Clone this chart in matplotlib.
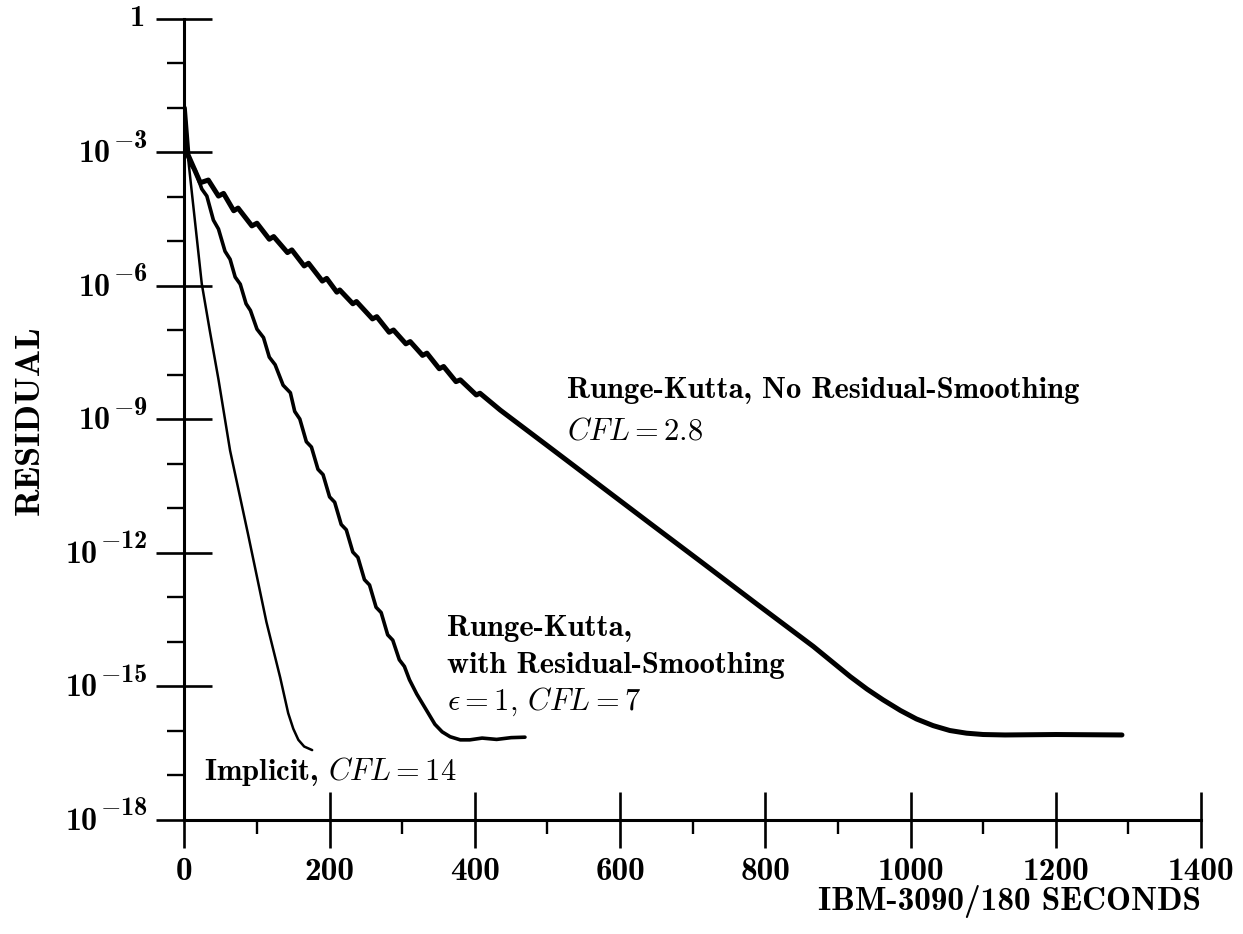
import numpy as np
import matplotlib
matplotlib.use("Agg")
import matplotlib.pyplot as plt
from matplotlib.ticker import FixedLocator, NullFormatter
from matplotlib.transforms import offset_copy

plt.rcParams["mathtext.fontset"] = "cm"
plt.rcParams["axes.unicode_minus"] = False
plt.rcParams["font.family"] = ["cmb10", "DejaVu Serif"]

# Convergence histories: time (s) and decades of residual reduction (residual = 10**-decades)
implicit_t = [0, 5, 15, 24, 35, 47, 63, 88, 113, 132, 143, 150, 157, 165, 176]
implicit_dec = [2.0, 3.1, 4.6, 5.95, 7.0, 8.1, 9.7, 11.6, 13.55, 14.8, 15.6,
                15.95, 16.2, 16.35, 16.43]

rk_smooth_t = [0, 5, 10, 15, 24, 31, 40, 47, 56, 63, 70, 77, 85, 91, 100, 109,
               117, 125, 136, 146, 152, 159, 168, 175, 184, 191, 200, 207, 216,
               223, 232, 239, 248, 255, 264, 271, 280, 287, 296, 303, 310, 320,
               334, 345, 355, 366, 380, 393, 410, 430, 450, 469]
rk_smooth_dec = [2.0, 3.1, 3.3, 3.4, 3.82, 3.98, 4.52, 4.72, 5.22, 5.4, 5.8,
                 5.96, 6.4, 6.55, 6.97, 7.16, 7.6, 7.77, 8.23, 8.4, 8.82, 8.99,
                 9.5, 9.62, 10.12, 10.24, 10.74, 10.86, 11.36, 11.48, 11.98,
                 12.1, 12.6, 12.72, 13.22, 13.34, 13.84, 13.96, 14.4, 14.55,
                 14.85, 15.17, 15.55, 15.85, 16.02, 16.13, 16.2, 16.2, 16.16,
                 16.19, 16.15, 16.14]

rk_plain_t = [0, 5, 22, 33, 47, 54, 68, 74, 93, 100, 117, 123, 142, 148, 165,
              171, 190, 196, 210, 214, 232, 237, 259, 265, 282, 288, 305, 311,
              328, 334, 351, 357, 374, 380, 402, 407, 435, 500, 572, 640, 710,
              790, 866, 917, 940, 962, 986, 1008, 1031, 1054, 1077, 1100, 1130,
              1200, 1291]
rk_plain_dec = [2.0, 3.05, 3.68, 3.62, 3.98, 3.92, 4.31, 4.25, 4.65, 4.59, 4.95,
                4.89, 5.25, 5.19, 5.55, 5.49, 5.89, 5.83, 6.14, 6.09, 6.40, 6.35,
                6.74, 6.69, 7.04, 6.99, 7.30, 7.25, 7.56, 7.51, 7.86, 7.81, 8.15,
                8.11, 8.45, 8.41, 8.79, 9.59, 10.48, 11.32, 12.18, 13.17, 14.1,
                14.78, 15.06, 15.3, 15.54, 15.73, 15.88, 15.99, 16.05, 16.08,
                16.09, 16.08, 16.09]

y_major = [0, -3, -6, -9, -12, -15, -18]
x_major = [0, 200, 400, 600, 800, 1000, 1200, 1400]
x_minor = [100, 300, 500, 700, 900, 1100, 1300]


def residual(dec):
    return 10.0 ** (-np.asarray(dec, dtype=float))


fig = plt.figure(figsize=(12.43, 9.34), dpi=100)
ax = fig.add_axes([0.1483, 0.1221, 0.818, 0.8576])

ax.plot(implicit_t, residual(implicit_dec), color="black", lw=1.8,
        solid_joinstyle="round", solid_capstyle="round")
ax.plot(rk_smooth_t, residual(rk_smooth_dec), color="black", lw=2.6,
        solid_joinstyle="round", solid_capstyle="round")
ax.plot(rk_plain_t, residual(rk_plain_dec), color="black", lw=3.6,
        solid_joinstyle="round", solid_capstyle="round")

ax.set_yscale("log")
ax.set_xlim(0, 1400)
ax.set_ylim(1e-18, 1)

for side in ("top", "right"):
    ax.spines[side].set_visible(False)
for side in ("left", "bottom"):
    ax.spines[side].set_linewidth(2.2)

ax.yaxis.set_major_locator(FixedLocator([10.0 ** p for p in y_major]))
ax.yaxis.set_major_formatter(NullFormatter())
ax.yaxis.set_minor_locator(FixedLocator(
    [10.0 ** p for p in range(-17, 0) if p % 3 != 0]))
ax.yaxis.set_minor_formatter(NullFormatter())

ax.xaxis.set_major_locator(FixedLocator(x_major))
ax.set_xticklabels([str(v) for v in x_major])
ax.xaxis.set_minor_locator(FixedLocator(x_minor))

ax.tick_params(axis="both", which="major", direction="inout", length=40,
               width=1.9, color="black")
ax.tick_params(axis="x", which="major", labelsize=24, pad=7)
ax.tick_params(axis="y", which="minor", direction="out", length=12, width=1.7)
ax.tick_params(axis="x", which="minor", direction="out", length=10, width=1.7)

# Power-of-ten labels on the residual axis, built as base plus raised exponent
ytrans = ax.get_yaxis_transform()
fig.canvas.draw()
renderer = fig.canvas.get_renderer()
spine_px = ax.transAxes.transform((0, 0))[0]
for p in y_major:
    yv = 10.0 ** p
    if p == 0:
        ax.text(0, yv, "1", fontsize=22, ha="right", va="center",
                transform=offset_copy(ytrans, fig=fig, x=-28, y=0, units="points"))
        continue
    exp_txt = ax.text(0, yv, r"$-$" + str(-p), fontsize=19, ha="right",
                      va="baseline",
                      transform=offset_copy(ytrans, fig=fig, x=-26.5, y=3.4,
                                            units="points"))
    bb = exp_txt.get_window_extent(renderer)
    # place the base just left of the exponent
    dx_pt = (bb.x0 - spine_px) * 72.0 / fig.dpi - 1.5
    ax.text(0, yv, "10", fontsize=23, ha="right", va="baseline",
            transform=offset_copy(ytrans, fig=fig, x=dx_pt, y=-7.2,
                                  units="points"))

fig.text(30 / 1243, 1 - 420 / 934, "RESIDUAL", rotation=90, ha="center",
         va="center", fontsize=26)
fig.text(1201 / 1243, 1 - 910 / 934, "IBM-3090/180 SECONDS", ha="right",
         va="baseline", fontsize=24)

txt = dict(fontsize=22, ha="left", va="baseline", color="black")
ax.text(527, 10 ** -8.52, "Runge-Kutta, No Residual-Smoothing", **txt)
ax.text(527, 10 ** -9.46, r"$CFL = 2.8$", **txt)
ax.text(362, 10 ** -13.87, "Runge-Kutta,", **txt)
ax.text(362, 10 ** -14.69, "with Residual-Smoothing", **txt)
ax.text(362, 10 ** -15.53, r"$\epsilon = 1,\, CFL = 7$", **txt)
ax.text(27, 10 ** -17.1, r"Implicit, $CFL = 14$", **txt)

fig.savefig("out.png", dpi=100)
